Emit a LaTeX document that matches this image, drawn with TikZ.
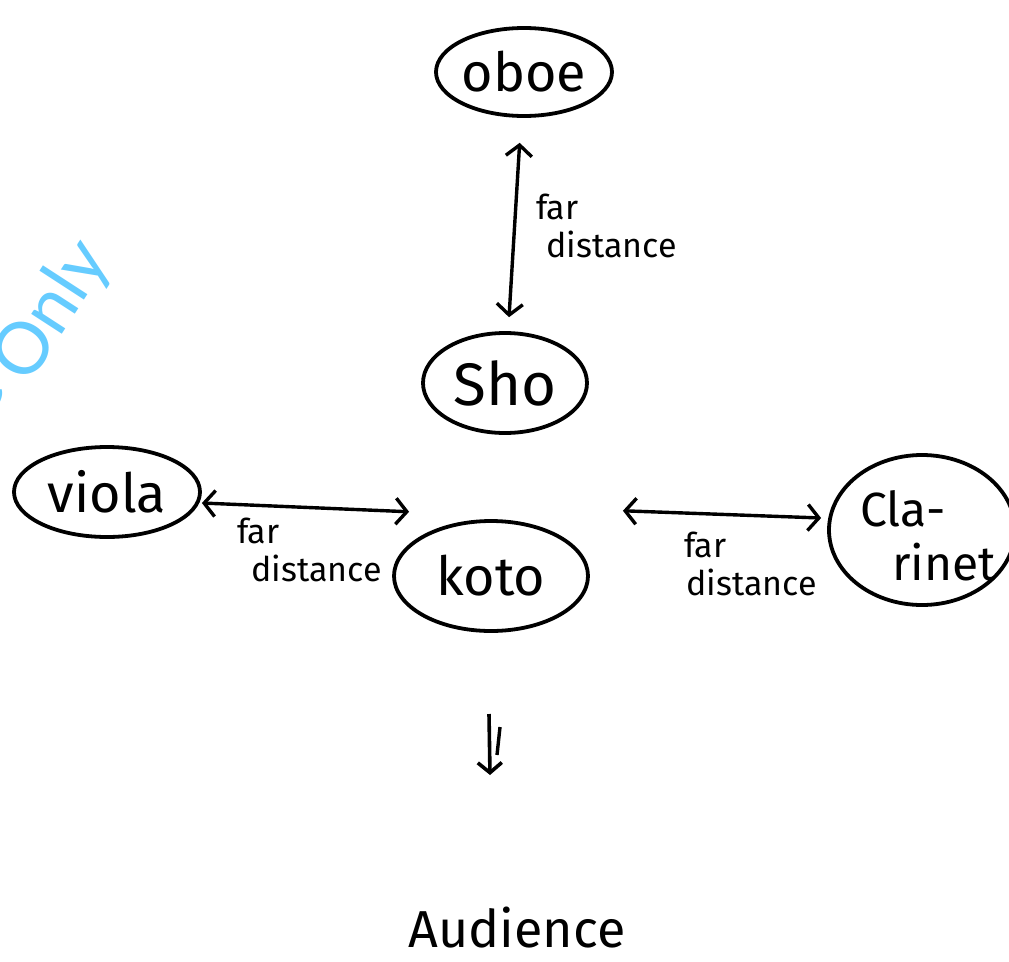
\documentclass[tikz,border=0pt]{standalone}
\usepackage{fontspec}
\setmainfont{Fira Sans}
\newfontfamily\wmfont{Lato}
\usetikzlibrary{shapes.geometric,arrows.meta}
\definecolor{wmblue}{RGB}{102,204,255}
\begin{document}
\begin{tikzpicture}[x=1pt,y=-1pt,
  instr/.style={draw,ellipse,line width=3.8pt,inner sep=0pt},
  itext/.style={inner sep=0pt,font=\fontsize{54}{58}\selectfont},
  lbl/.style={align=left,inner sep=0pt,font=\fontsize{34}{38}\selectfont},
  conn/.style={line width=3.4pt,{Straight Barb[length=11pt,width=26pt]}-{Straight Barb[length=11pt,width=26pt]}},
  wm/.style={text=wmblue,font=\wmfont\fontsize{72}{72}\selectfont,rotate=57,inner sep=0pt}]
\useasboundingbox (0,0) rectangle (1009,961);
\fill[white] (0,0) rectangle (1009,961);
% watermark
\node[wm] (wm1) at (53,312) {Only};
\node[wm] (wm2) at (-17,396) {e};
% instruments
\node[instr,minimum width=176pt,minimum height=88pt] (oboe) at (524,72) {};
\node[itext] (oboet) at (oboe) {oboe};
\node[instr,minimum width=164pt,minimum height=100pt] (sho) at (505,383) {};
\node[itext,font=\fontsize{60}{64}\selectfont] (shot) at (sho) {Sho};
\node[instr,minimum width=186pt,minimum height=90pt] (viola) at (107,492) {};
\node[itext] (violat) at (viola) {viola};
\node[instr,minimum width=194pt,minimum height=110pt] (koto) at (491,576) {};
\node[itext] (kotot) at (koto) {koto};
\node[instr,minimum width=186pt,minimum height=150pt] (cla) at (922,530) {};
\node[itext,align=left,font=\fontsize{48}{54}\selectfont] (clat) at ([xshift=6pt,yshift=-6pt]cla) {Cla-\\\hspace*{32pt}rinet};
\node[inner sep=0pt,font=\fontsize{52}{56}\selectfont] (aud) at (517,928) {Audience};
% connectors
\draw[conn,shorten <=25pt,shorten >=14pt] (oboe) -- (sho);
\draw[conn] ([yshift=-11pt]viola.east) -- ([shift={(-12,-24)}]koto.north west);
\draw[conn] ([shift={(62,-25)}]koto.north east) -- ([shift={(-6,-12)}]cla.west);
% labels
\node[lbl,anchor=north west] (l1) at (536,194) {far\\\hspace*{10pt}distance};
\node[lbl,anchor=north west] (l2) at (237,518) {far\\\hspace*{14pt}distance};
\node[lbl,anchor=north west] (l3) at (684,532) {far\\\hspace*{2pt}distance};
% down arrow
\coordinate (d1) at (489,714);
\coordinate (d2) at (490,775);
\coordinate (d3) at (500,727);
\coordinate (d4) at (497,755);
\draw[line width=3.6pt,-{Straight Barb[length=10pt,width=24pt]}] (d1) -- (d2);
\draw[line width=3.4pt] (d3) -- (d4);
\end{tikzpicture}
\end{document}
